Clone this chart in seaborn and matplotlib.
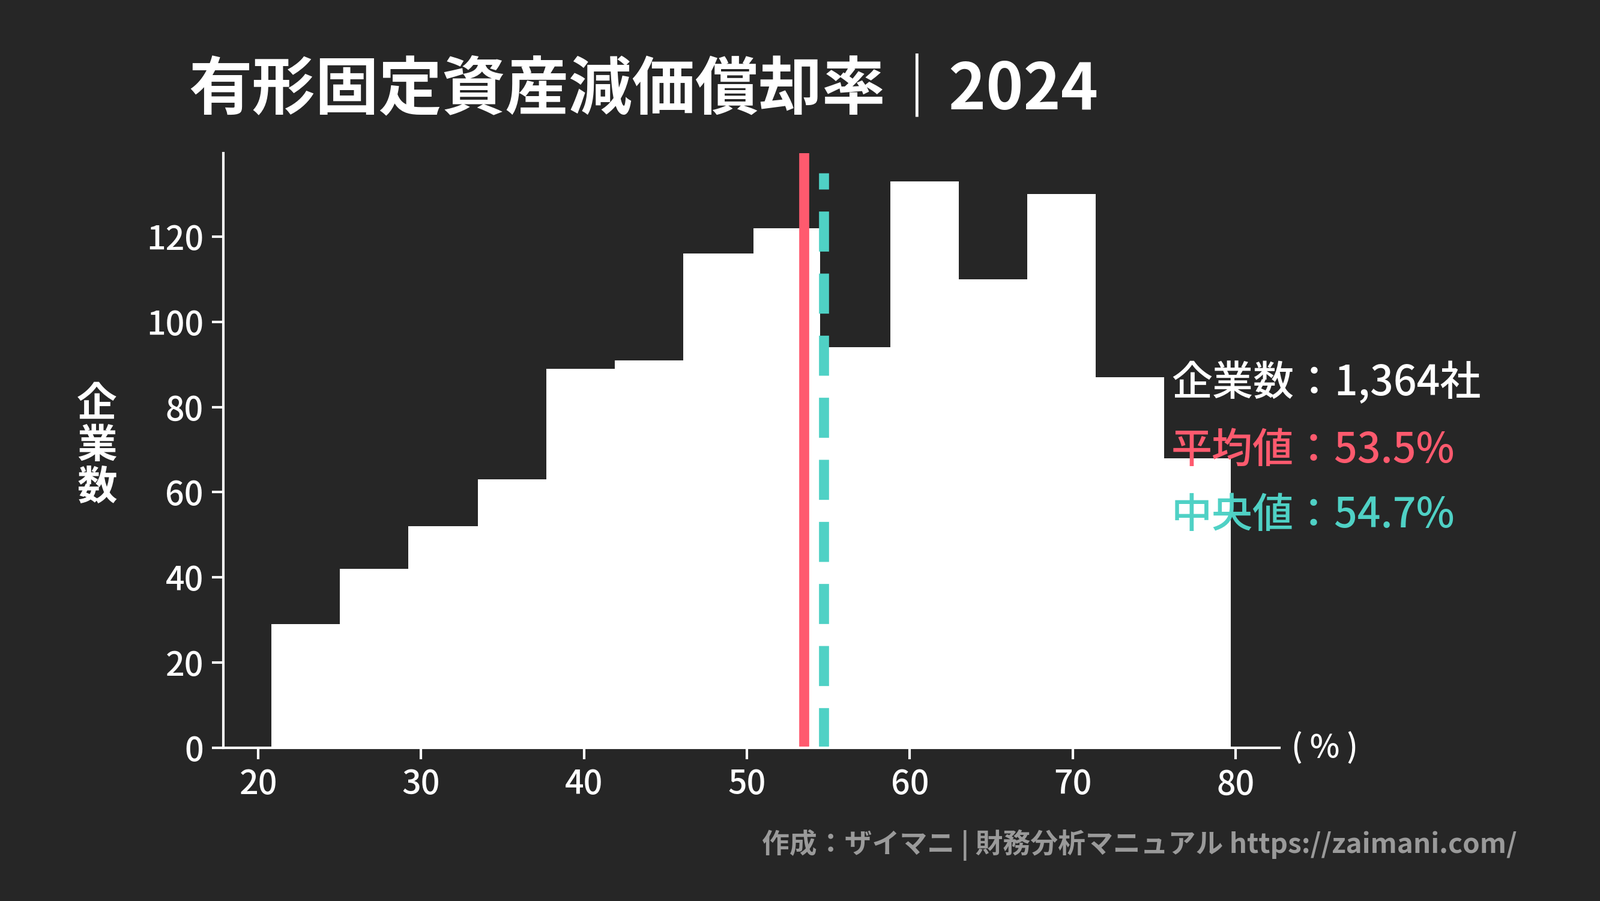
import numpy as np
import pandas as pd
import seaborn as sns
from matplotlib import pyplot as plt

# ビンの境界と企業数
bin_edges = [20.8, 25.0, 29.2, 33.5, 37.7, 41.9, 46.1, 50.4, 54.5, 58.8, 63.0, 67.2, 71.4, 75.6, 79.7]
counts = [29, 42, 52, 63, 89, 91, 116, 122, 94, 133, 110, 130, 87, 68]
mean_val = 53.5
median_val = 54.7
x_ticks = [20, 30, 40, 50, 60, 70, 80]
y_ticks = [0, 20, 40, 60, 80, 100, 120]

bg = '#262626'
red = '#ff5a6e'
teal = '#4fd1c5'
plt.rcParams['font.family'] = 'Noto Sans CJK JP'

centers = [(a + b) / 2 for a, b in zip(bin_edges[:-1], bin_edges[1:])]
df = pd.DataFrame({'rate': centers, 'n': counts})

fig = plt.figure(figsize=(26.65, 15), dpi=100, facecolor=bg)
ax = fig.add_axes([0.1397, 0.170, 0.660, 0.660])
ax.set_facecolor(bg)
sns.histplot(data=df, x='rate', weights='n', bins=bin_edges, ax=ax,
             color='white', alpha=1, edgecolor='white', linewidth=0, element='step')

ax.axvline(mean_val, color=red, lw=12, ymin=0, ymax=1)
ax.plot([median_val, median_val], [0, 135], color=teal, lw=12, dashes=(4, 2.2))

ax.set_xlim(17.87, 82.7)
ax.set_ylim(0, 139.6)
ax.set_xticks(x_ticks)
ax.set_yticks(y_ticks)
ax.tick_params(colors='white', labelsize=40, length=14, width=3, pad=10)
for lab in ax.get_xticklabels() + ax.get_yticklabels():
    lab.set_fontweight('medium')
for s in ['top', 'right']:
    ax.spines[s].set_visible(False)
for s in ['left', 'bottom']:
    ax.spines[s].set_color('white')
    ax.spines[s].set_linewidth(3)
ax.set_xlabel('')
ax.set_ylabel('')

fig.text(0.0606, 0.505, '企\n業\n数', color='white', fontsize=48, fontweight='bold',
         ha='center', va='center', linespacing=1.05)
fig.text(0.807, 0.169, '( % )', color='white', fontsize=38, fontweight='medium', va='center')

fig.text(0.118, 0.90, '有形固定資産減価償却率｜2024', color='white', fontsize=76,
         fontweight='heavy', va='center')

fig.text(0.732, 0.575, '企業数：1,364社', color='white', fontsize=49, fontweight='medium', va='center')
fig.text(0.732, 0.500, '平均値：53.5%', color=red, fontsize=49, fontweight='medium', va='center')
fig.text(0.732, 0.428, '中央値：54.7%', color=teal, fontsize=49, fontweight='medium', va='center')

fig.text(0.948, 0.062, '作成：ザイマニ | 財務分析マニュアル https://zaimani.com/', color='#9a9a9a',
         fontsize=33, fontweight='bold', ha='right', va='center')

fig.savefig('out.png', dpi=100, facecolor=bg)
